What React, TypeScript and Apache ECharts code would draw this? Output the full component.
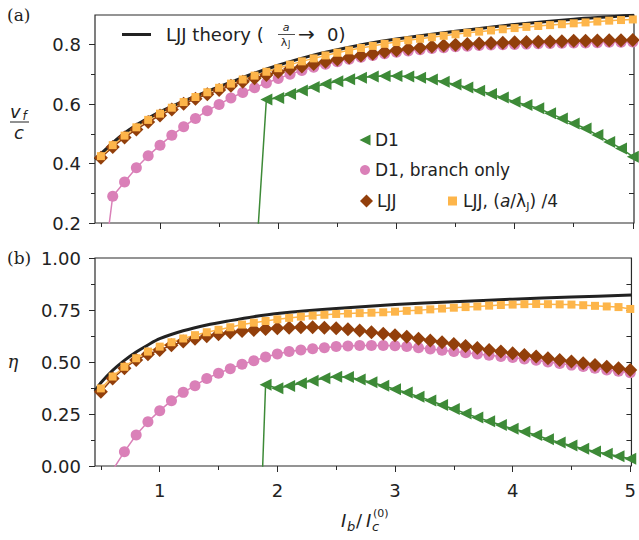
import React, { useEffect, useRef } from "react";
import * as echarts from "echarts";

// ---------- data ----------
const xs = [
  0.5, 0.6, 0.7, 0.8, 0.9, 1.0, 1.1, 1.2, 1.3, 1.4, 1.5, 1.6, 1.7, 1.8, 1.9, 2.0,
  2.1, 2.2, 2.3, 2.4, 2.5, 2.6, 2.7, 2.8, 2.9, 3.0, 3.1, 3.2, 3.3, 3.4, 3.5, 3.6,
  3.7, 3.8, 3.9, 4.0, 4.1, 4.2, 4.3, 4.4, 4.5, 4.6, 4.7, 4.8, 4.9, 5.0,
];

// (a) front velocity v_f / c
const d1Top = [
  null, null, null, null, null, null, null, null, null, null, null, null, null, 0.0, 0.616, 0.621,
  0.634, 0.646, 0.658, 0.668, 0.677, 0.684, 0.689, 0.693, 0.695, 0.695, 0.693, 0.689, 0.683, 0.675, 0.666, 0.656,
  0.645, 0.634, 0.622, 0.608, 0.597, 0.586, 0.569, 0.552, 0.535, 0.518, 0.496, 0.473, 0.451, 0.423,
];
const branchTop = [
  -0.02, 0.29, 0.338, 0.386, 0.426, 0.462, 0.495, 0.524, 0.552, 0.578, 0.599, 0.621, 0.639, 0.655, 0.671, 0.686,
  0.701, 0.713, 0.724, 0.734, 0.743, 0.751, 0.758, 0.764, 0.770, 0.775, 0.779, 0.783, 0.787, 0.790, 0.793, 0.795,
  0.797, 0.799, 0.800, 0.801, 0.802, 0.803, 0.804, 0.805, 0.806, 0.806, 0.807, 0.808, 0.808, 0.809,
];
const ljjTop = [
  0.420, 0.456, 0.488, 0.515, 0.540, 0.562, 0.582, 0.601, 0.618, 0.633, 0.648, 0.662, 0.675, 0.687, 0.698, 0.708,
  0.718, 0.727, 0.735, 0.743, 0.750, 0.757, 0.764, 0.770, 0.776, 0.781, 0.786, 0.790, 0.794, 0.797, 0.800, 0.802,
  0.804, 0.806, 0.807, 0.808, 0.809, 0.810, 0.811, 0.812, 0.813, 0.813, 0.814, 0.815, 0.815, 0.816,
];
const ljj4Top = [
  0.425, 0.462, 0.494, 0.522, 0.547, 0.568, 0.588, 0.607, 0.624, 0.640, 0.655, 0.669, 0.683, 0.696, 0.709, 0.721,
  0.733, 0.744, 0.754, 0.764, 0.773, 0.781, 0.789, 0.796, 0.803, 0.809, 0.815, 0.820, 0.825, 0.830, 0.835, 0.840,
  0.844, 0.848, 0.852, 0.856, 0.860, 0.863, 0.866, 0.869, 0.872, 0.875, 0.878, 0.881, 0.883, 0.885,
];
const theoryTopX = [0.45, 0.5, 0.6, 0.7, 0.8, 0.9, 1.0, 1.2, 1.4, 1.6, 1.8, 2.0, 2.25, 2.5, 2.75, 3.0, 3.5, 4.0, 4.5, 5.01];
const theoryTopY = [0.414, 0.433, 0.470, 0.503, 0.530, 0.553, 0.574, 0.610, 0.643, 0.674, 0.704, 0.731, 0.760, 0.783, 0.803, 0.819, 0.845, 0.868, 0.886, 0.899];

// (b) efficiency eta
const d1Bot = [
  null, null, null, null, null, null, null, null, null, null, null, null, null, -1.2, 0.391, 0.374,
  0.385, 0.398, 0.410, 0.422, 0.429, 0.428, 0.416, 0.403, 0.386, 0.369, 0.353, 0.333, 0.315, 0.293, 0.274, 0.253,
  0.233, 0.215, 0.197, 0.179, 0.165, 0.149, 0.129, 0.113, 0.098, 0.083, 0.070, 0.059, 0.047, 0.035,
];
const branchBot = [
  -0.15, -0.02, 0.069, 0.149, 0.213, 0.266, 0.314, 0.354, 0.386, 0.421, 0.446, 0.468, 0.489, 0.506, 0.524, 0.538,
  0.550, 0.558, 0.564, 0.569, 0.574, 0.577, 0.579, 0.579, 0.579, 0.578, 0.574, 0.569, 0.563, 0.556, 0.550, 0.544,
  0.538, 0.532, 0.527, 0.522, 0.515, 0.508, 0.500, 0.493, 0.485, 0.478, 0.470, 0.462, 0.455, 0.448,
];
const ljjBot = [
  0.357, 0.421, 0.470, 0.510, 0.537, 0.558, 0.580, 0.598, 0.612, 0.624, 0.634, 0.642, 0.649, 0.654, 0.659, 0.662,
  0.665, 0.667, 0.667, 0.665, 0.662, 0.657, 0.651, 0.643, 0.636, 0.629, 0.621, 0.612, 0.603, 0.595, 0.586, 0.577,
  0.567, 0.558, 0.550, 0.542, 0.534, 0.526, 0.518, 0.510, 0.502, 0.494, 0.486, 0.477, 0.470, 0.462,
];
const ljj4Bot = [
  0.373, 0.430, 0.477, 0.518, 0.550, 0.574, 0.595, 0.613, 0.629, 0.643, 0.655, 0.667, 0.680, 0.689, 0.697, 0.705,
  0.712, 0.718, 0.723, 0.727, 0.731, 0.733, 0.735, 0.737, 0.739, 0.742, 0.746, 0.749, 0.753, 0.757, 0.761, 0.764,
  0.767, 0.771, 0.774, 0.776, 0.778, 0.779, 0.778, 0.777, 0.776, 0.773, 0.770, 0.767, 0.764, 0.755,
];
const theoryBotX = [0.45, 0.5, 0.6, 0.7, 0.8, 0.9, 1.0, 1.2, 1.4, 1.6, 1.8, 2.0, 2.5, 3.0, 3.5, 4.0, 4.5, 5.01];
const theoryBotY = [0.36, 0.40, 0.46, 0.508, 0.548, 0.582, 0.612, 0.650, 0.678, 0.699, 0.718, 0.733, 0.757, 0.776, 0.790, 0.802, 0.812, 0.822];

// ticks
const xMajor = [1, 2, 3, 4, 5];
const xMinor = [0.5, 1.5, 2.5, 3.5, 4.5];
const yTopMajor = [0.2, 0.4, 0.6, 0.8];
const yTopMinor = [0.3, 0.5, 0.7];
const yTopRight = [0.3, 0.4, 0.5, 0.6, 0.7, 0.8];
const yBotMajor = [0, 0.25, 0.5, 0.75, 1.0];
const yBotMinor = [0.125, 0.375, 0.625, 0.875];
const yBotRight = [0.125, 0.25, 0.375, 0.5, 0.625, 0.75, 0.875];

// ---------- style ----------
const C_GREEN = "#3d8a37";
const C_PINK = "#da80b8";
const C_BROWN = "#923f0b";
const C_ORANGE = "#fdb54a";
const C_BLACK = "#222222";
const AX = "#2a2a2a";
const FONT = "DejaVu Sans";
const TRI = "path://M0,5L10,0L10,10Z";

const pairs = (xv: number[], yv: (number | null)[]) =>
  xv.map((x, i) => [x, yv[i]]).filter((p) => p[1] !== null);

function xAxisDef(grid: number, values: number[], len: number, labels: boolean) {
  return {
    type: "value",
    gridIndex: grid,
    position: "bottom",
    min: 0.45,
    max: 5.01,
    axisLine: { show: false, onZero: false },
    splitLine: { show: false },
    axisTick: { show: true, customValues: values, length: len, lineStyle: { color: AX, width: 1 } },
    axisLabel: labels
      ? { show: true, customValues: values, fontSize: 18, fontFamily: FONT, color: "#222", margin: 15 }
      : { show: false },
  };
}

function yAxisDef(
  grid: number,
  min: number,
  max: number,
  values: number[],
  len: number,
  labels: boolean,
  pos: string,
  inside: boolean,
  digits: number
) {
  return {
    type: "value",
    gridIndex: grid,
    position: pos,
    min,
    max,
    axisLine: { show: false, onZero: false },
    splitLine: { show: false },
    axisTick: { show: true, inside, customValues: values, length: len, lineStyle: { color: AX, width: 1 } },
    axisLabel: labels
      ? {
          show: true,
          customValues: values,
          fontSize: 18,
          fontFamily: FONT,
          color: "#222",
          margin: 14,
          formatter: (v: number) => v.toFixed(digits),
        }
      : { show: false },
  };
}

function lineSeries(name: string, xi: number, yi: number, data: any[], color: string, symbol: string, size: number) {
  return {
    name,
    type: "line",
    xAxisIndex: xi,
    yAxisIndex: yi,
    data,
    symbol,
    symbolSize: size,
    showSymbol: true,
    clip: true,
    silent: true,
    itemStyle: { color, borderWidth: 0 },
    lineStyle: { color, width: 1.5 },
  };
}

function theorySeries(xi: number, yi: number, data: any[]) {
  return {
    name: "LJJ theory",
    type: "line",
    xAxisIndex: xi,
    yAxisIndex: yi,
    data,
    showSymbol: false,
    symbol: "none",
    smooth: 0.3,
    clip: true,
    silent: true,
    lineStyle: { color: C_BLACK, width: 3 },
  };
}

function txt(text: string, x: number, y: number, size: number, opts: any = {}) {
  return {
    type: "text",
    x,
    y,
    silent: true,
    z: 100,
    style: {
      text,
      fontSize: size,
      fontFamily: opts.family || FONT,
      fontStyle: opts.italic ? "italic" : "normal",
      fill: opts.color || "#222",
      align: opts.align || "left",
      verticalAlign: "middle",
      textAlign: opts.align || "left",
      textVerticalAlign: "middle",
    },
  };
}

function hline(x1: number, x2: number, y: number, w: number, color = "#222") {
  return {
    type: "line",
    silent: true,
    z: 100,
    shape: { x1, y1: y, x2, y2: y },
    style: { stroke: color, lineWidth: w },
  };
}

export default function App() {
  const ref = useRef<HTMLDivElement>(null);

  useEffect(() => {
    const chart = echarts.init(ref.current!, null, { renderer: "svg" });

    const gridStyle = { show: true, borderColor: AX, borderWidth: 1.2, backgroundColor: "transparent" };

    const option: any = {
      animation: false,
      backgroundColor: "#ffffff",
      grid: [
        { left: 95, top: 15, width: 539, height: 208, ...gridStyle },
        { left: 95, top: 258, width: 539, height: 208, ...gridStyle },
      ],
      xAxis: [
        xAxisDef(0, xMajor, 6, false),
        xAxisDef(0, xMinor, 4, false),
        xAxisDef(1, xMajor, 6, true),
        xAxisDef(1, xMinor, 4, false),
      ],
      yAxis: [
        yAxisDef(0, 0.2, 0.9, yTopMajor, 6, true, "left", false, 1),
        yAxisDef(0, 0.2, 0.9, yTopMinor, 4, false, "left", false, 1),
        yAxisDef(0, 0.2, 0.9, yTopRight, 5, false, "right", true, 1),
        yAxisDef(1, 0, 1, yBotMajor, 6, true, "left", false, 2),
        yAxisDef(1, 0, 1, yBotMinor, 4, false, "left", false, 2),
        yAxisDef(1, 0, 1, yBotRight, 5, false, "right", true, 2),
      ],
      series: [
        lineSeries("D1", 0, 0, pairs(xs, d1Top), C_GREEN, TRI, 12),
        lineSeries("D1, branch only", 0, 0, pairs(xs, branchTop), C_PINK, "circle", 11),
        lineSeries("LJJ", 0, 0, pairs(xs, ljjTop), C_BROWN, "diamond", 14),
        lineSeries("LJJ, (a/λJ)/4", 0, 0, pairs(xs, ljj4Top), C_ORANGE, "rect", 8),
        theorySeries(0, 0, pairs(theoryTopX, theoryTopY)),
        lineSeries("D1", 2, 3, pairs(xs, d1Bot), C_GREEN, TRI, 12),
        lineSeries("D1, branch only", 2, 3, pairs(xs, branchBot), C_PINK, "circle", 11),
        lineSeries("LJJ", 2, 3, pairs(xs, ljjBot), C_BROWN, "diamond", 14),
        lineSeries("LJJ, (a/λJ)/4", 2, 3, pairs(xs, ljj4Bot), C_ORANGE, "rect", 8),
        theorySeries(2, 3, pairs(theoryBotX, theoryBotY)),
      ],
      graphic: [
        // panel labels
        txt("(a)", 7, 15, 17, { family: "DejaVu Serif" }),
        txt("(b)", 7, 258, 17, { family: "DejaVu Serif" }),
        // y titles
        txt("v", 10, 111, 18, { italic: true }),
        txt("f", 22.5, 116, 12, { italic: true }),
        hline(10, 29, 122, 1),
        txt("c", 19, 132, 18, { italic: true, align: "center" }),
        txt("η", 13, 361, 18, { italic: true, align: "center", family: "DejaVu Serif" }),
        // x title
        txt("I", 341, 520, 18, { italic: true }),
        txt("b", 347, 526, 13, { italic: true }),
        txt("/", 356, 520, 18),
        txt("I", 366, 520, 18, { italic: true }),
        txt("c", 372, 526, 13, { italic: true }),
        txt("(0)", 373, 513, 11),
        // theory legend
        hline(122, 151, 34.5, 3, C_BLACK),
        txt("LJJ theory (", 166, 34, 18),
        txt("a", 286, 27, 11, { italic: true, align: "center" }),
        hline(278, 295, 34.5, 0.8),
        txt("λ", 284, 42, 11, { align: "center" }),
        txt("J", 288, 44, 8),
        txt("→", 298, 34, 20),
        txt("0)", 327, 34, 18),
        // data legend
        {
          type: "polygon",
          silent: true,
          z: 100,
          shape: { points: [[359.5, 140], [370.5, 134.5], [370.5, 145.5]] },
          style: { fill: C_GREEN },
        },
        txt("D1", 375, 140, 17),
        { type: "circle", silent: true, z: 100, shape: { cx: 365, cy: 170, r: 5 }, style: { fill: C_PINK } },
        txt("D1, branch only", 375, 170, 17),
        {
          type: "polygon",
          silent: true,
          z: 100,
          shape: { points: [[366.5, 194.5], [373, 201], [366.5, 207.5], [360, 201]] },
          style: { fill: C_BROWN },
        },
        txt("LJJ", 377, 201, 17),
        { type: "rect", silent: true, z: 100, shape: { x: 448, y: 196.5, width: 9, height: 9 }, style: { fill: C_ORANGE } },
        {
          type: "text",
          x: 463,
          y: 201,
          silent: true,
          z: 100,
          style: {
            text: "LJJ, ({i|a}/λ{s|J}) /4",
            fontSize: 17,
            fontFamily: FONT,
            fill: "#222",
            verticalAlign: "middle",
            textVerticalAlign: "middle",
            lineHeight: 22,
            rich: {
              i: { fontStyle: "italic", fontSize: 17, fontFamily: FONT, lineHeight: 22 },
              s: { fontSize: 11, fontFamily: FONT, verticalAlign: "bottom", lineHeight: 13 },
            },
          },
        },
      ],
    };

    chart.setOption(option);
    return () => chart.dispose();
  }, []);

  return (
    <div
      ref={ref}
      style={{ position: "fixed", left: 0, top: 0, width: 639, height: 540, background: "#fff" }}
    />
  );
}
